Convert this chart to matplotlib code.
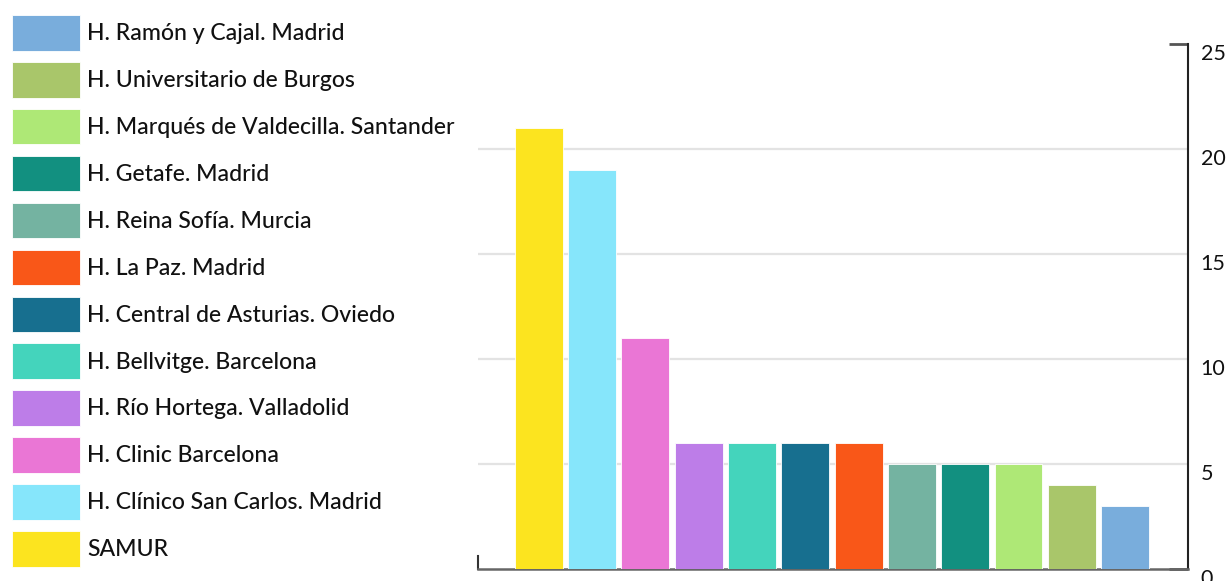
import matplotlib
matplotlib.use("Agg")
import matplotlib.pyplot as plt
from matplotlib.patches import Patch
from matplotlib.ticker import FixedLocator

# data, in bar order (left to right)
hospitals = [
    "SAMUR",
    "H. Clínico San Carlos. Madrid",
    "H. Clinic Barcelona",
    "H. Río Hortega. Valladolid",
    "H. Bellvitge. Barcelona",
    "H. Central de Asturias. Oviedo",
    "H. La Paz. Madrid",
    "H. Reina Sofía. Murcia",
    "H. Getafe. Madrid",
    "H. Marqués de Valdecilla. Santander",
    "H. Universitario de Burgos",
    "H. Ramón y Cajal. Madrid",
]
values = [21, 19, 11, 6, 6, 6, 6, 5, 5, 5, 4, 3]
colors = [
    "#FCE41F", "#86E6FB", "#EA76D5", "#BD7DE8", "#44D4BC", "#176F8F",
    "#F95718", "#74B3A1", "#129080", "#AEE876", "#A9C66A", "#79ADDC",
]
yticks = [0, 5, 10, 15, 20, 25]

plt.rcParams["font.family"] = ["Lato", "DejaVu Sans"]

W, H = 1227, 581
fig = plt.figure(figsize=(W / 100, H / 100), dpi=100)
ax = fig.add_axes([478 / W, 1 - 569 / H, (1188 - 478) / W, (569 - 44) / H])

x = list(range(len(values)))
ax.bar(x, values, width=0.9, color=colors, edgecolor="white", linewidth=0.6, zorder=3)

ax.set_xlim(-1.14, 12.18)
ax.set_ylim(0, 25)

ax.yaxis.tick_right()
ax.yaxis.remove_overlapping_locs = False
ax.yaxis.set_major_locator(FixedLocator(yticks))
ax.yaxis.set_minor_locator(FixedLocator([0, 25]))
ax.tick_params(axis="y", which="major", length=0, pad=9, labelsize=15.5, labelcolor="#111111")
ax.tick_params(axis="y", which="minor", direction="in", length=14, width=2.0, color="#555555")
for lab in ax.get_yticklabels():
    lab.set_verticalalignment("top")
ax.set_xticks([])
ax.grid(axis="y", which="major", color="#e3e3e3", linewidth=1.6, zorder=0)
gl = ax.yaxis.get_gridlines()
gl[0].set_visible(False)
gl[-1].set_visible(False)

ax.spines["top"].set_visible(False)
ax.spines["right"].set_color("#222222")
ax.spines["right"].set_linewidth(1.5)
ax.spines["bottom"].set_color("#666666")
ax.spines["bottom"].set_linewidth(1.8)
ax.spines["left"].set_bounds(0, 0.6)
ax.spines["left"].set_color("#333333")
ax.spines["left"].set_linewidth(1.5)

# legend: reversed order, top row is the last bar
handles = [Patch(facecolor=c, edgecolor="white", linewidth=0.6) for c in colors[::-1]]
fig.legend(handles, hospitals[::-1], loc="upper left",
           bbox_to_anchor=(12 / W, 1 - 15 / H), frameon=False,
           prop={"size": 16.6, "weight": "medium"},
           handlelength=2.95, handleheight=2.0,
           handletextpad=0.3, labelspacing=0.49, borderpad=0, borderaxespad=0,
           labelcolor="#111111")

fig.savefig("out.png", dpi=100)
